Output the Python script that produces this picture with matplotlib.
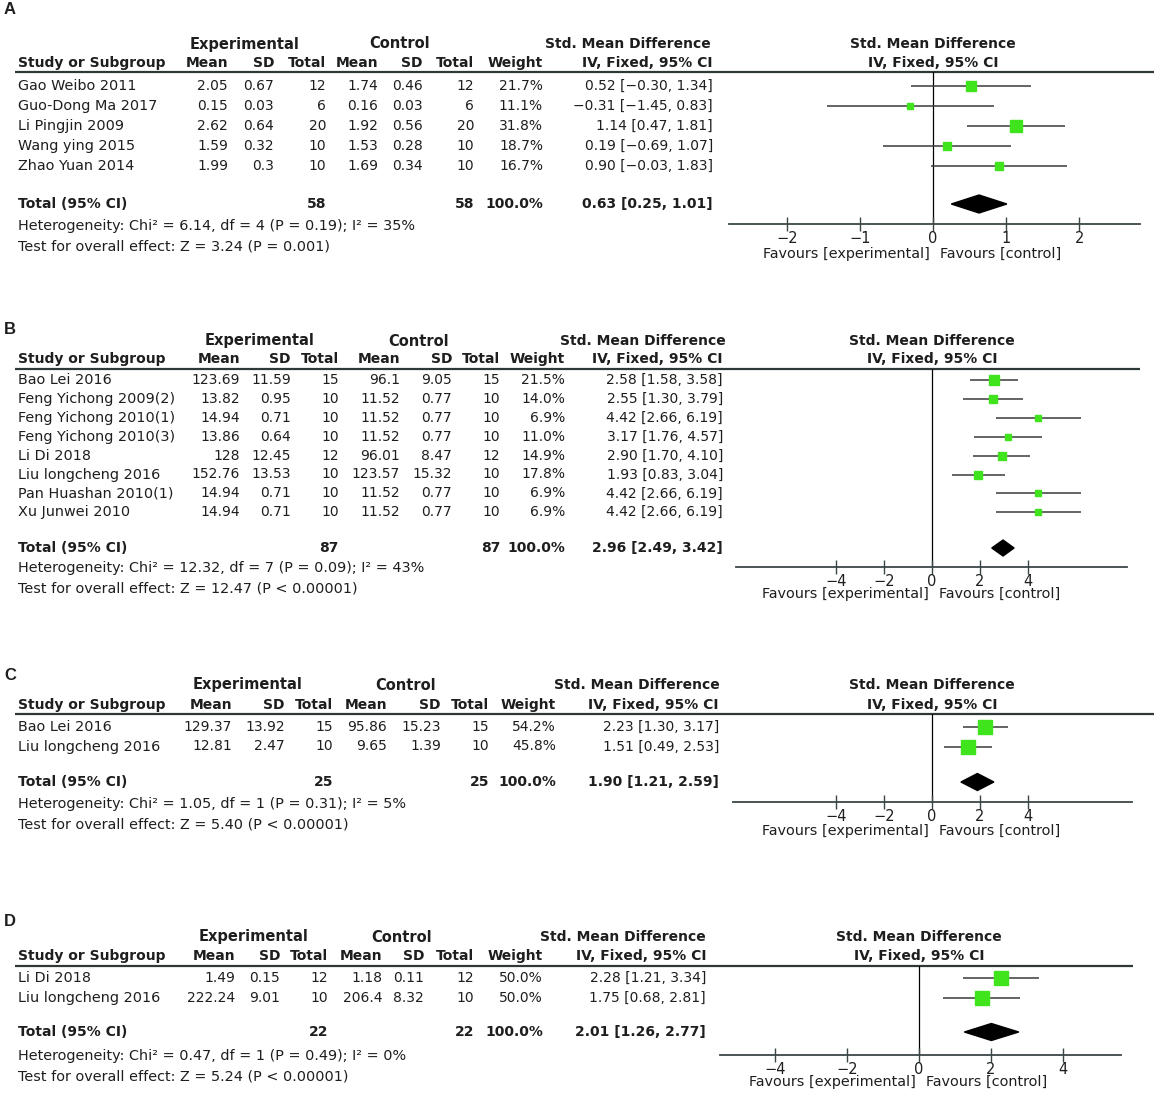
import matplotlib.pyplot as plt

W, H = 1156, 1097

# ---------------- panel A ----------------
a_study = ['Gao Weibo 2011', 'Guo-Dong Ma 2017', 'Li Pingjin 2009', 'Wang ying 2015', 'Zhao Yuan 2014']
a_exp_mean = [2.05, 0.15, 2.62, 1.59, 1.99]
a_exp_sd = [0.67, 0.03, 0.64, 0.32, 0.3]
a_exp_n = [12, 6, 20, 10, 10]
a_ctl_mean = [1.74, 0.16, 1.92, 1.53, 1.69]
a_ctl_sd = [0.46, 0.03, 0.56, 0.28, 0.34]
a_ctl_n = [12, 6, 20, 10, 10]
a_weight = [21.7, 11.1, 31.8, 18.7, 16.7]
a_smd = [0.52, -0.31, 1.14, 0.19, 0.90]
a_lo = [-0.30, -1.45, 0.47, -0.69, -0.03]
a_hi = [1.34, 0.83, 1.81, 1.07, 1.83]
a_totals = [58, 58]
a_pooled = [0.63, 0.25, 1.01]
a_het = 'Heterogeneity: Chi² = 6.14, df = 4 (P = 0.19); I² = 35%'
a_test = 'Test for overall effect: Z = 3.24 (P = 0.001)'
a_ticks = [-2, -1, 0, 1, 2]

# ---------------- panel B ----------------
b_study = ['Bao Lei 2016', 'Feng Yichong 2009(2)', 'Feng Yichong 2010(1)', 'Feng Yichong 2010(3)',
           'Li Di 2018', 'Liu longcheng 2016', 'Pan Huashan 2010(1)', 'Xu Junwei 2010']
b_exp_mean = [123.69, 13.82, 14.94, 13.86, 128, 152.76, 14.94, 14.94]
b_exp_sd = [11.59, 0.95, 0.71, 0.64, 12.45, 13.53, 0.71, 0.71]
b_exp_n = [15, 10, 10, 10, 12, 10, 10, 10]
b_ctl_mean = [96.1, 11.52, 11.52, 11.52, 96.01, 123.57, 11.52, 11.52]
b_ctl_sd = [9.05, 0.77, 0.77, 0.77, 8.47, 15.32, 0.77, 0.77]
b_ctl_n = [15, 10, 10, 10, 12, 10, 10, 10]
b_weight = [21.5, 14.0, 6.9, 11.0, 14.9, 17.8, 6.9, 6.9]
b_smd = [2.58, 2.55, 4.42, 3.17, 2.90, 1.93, 4.42, 4.42]
b_lo = [1.58, 1.30, 2.66, 1.76, 1.70, 0.83, 2.66, 2.66]
b_hi = [3.58, 3.79, 6.19, 4.57, 4.10, 3.04, 6.19, 6.19]
b_totals = [87, 87]
b_pooled = [2.96, 2.49, 3.42]
b_het = 'Heterogeneity: Chi² = 12.32, df = 7 (P = 0.09); I² = 43%'
b_test = 'Test for overall effect: Z = 12.47 (P < 0.00001)'
b_ticks = [-4, -2, 0, 2, 4]

# ---------------- panel C ----------------
c_study = ['Bao Lei 2016', 'Liu longcheng 2016']
c_exp_mean = [129.37, 12.81]
c_exp_sd = [13.92, 2.47]
c_exp_n = [15, 10]
c_ctl_mean = [95.86, 9.65]
c_ctl_sd = [15.23, 1.39]
c_ctl_n = [15, 10]
c_weight = [54.2, 45.8]
c_smd = [2.23, 1.51]
c_lo = [1.30, 0.49]
c_hi = [3.17, 2.53]
c_totals = [25, 25]
c_pooled = [1.90, 1.21, 2.59]
c_het = 'Heterogeneity: Chi² = 1.05, df = 1 (P = 0.31); I² = 5%'
c_test = 'Test for overall effect: Z = 5.40 (P < 0.00001)'
c_ticks = [-4, -2, 0, 2, 4]

# ---------------- panel D ----------------
d_study = ['Li Di 2018', 'Liu longcheng 2016']
d_exp_mean = [1.49, 222.24]
d_exp_sd = [0.15, 9.01]
d_exp_n = [12, 10]
d_ctl_mean = [1.18, 206.4]
d_ctl_sd = [0.11, 8.32]
d_ctl_n = [12, 10]
d_weight = [50.0, 50.0]
d_smd = [2.28, 1.75]
d_lo = [1.21, 0.68]
d_hi = [3.34, 2.81]
d_totals = [22, 22]
d_pooled = [2.01, 1.26, 2.77]
d_het = 'Heterogeneity: Chi² = 0.47, df = 1 (P = 0.49); I² = 0%'
d_test = 'Test for overall effect: Z = 5.24 (P < 0.00001)'
d_ticks = [-4, -2, 0, 2, 4]

# pixel layout of each panel (positions only)
lay_a = dict(letter=10, h1=44, h2=63, line=72, line_end=1154, row0=86, step=20, total=204, het=226, test=246,
             cols=[228, 274, 326, 378, 423, 474, 543, 713], exp_c=245, ctl_c=400, smd_c=628,
             zero=933, unit=73.1, ax_l=729, ax_r=1140, axis=224, fav=254, dh=9)
lay_b = dict(letter=330, h1=341, h2=359, line=369, line_end=1140, row0=380, step=18.9, total=548, het=568, test=588,
             cols=[240, 291, 339, 400, 452, 500, 565, 723], exp_c=260, ctl_c=419, smd_c=643,
             zero=932, unit=24.0, ax_l=736, ax_r=1127, axis=567, fav=594, dh=8)
lay_c = dict(letter=676, h1=685, h2=705, line=714, line_end=1154, row0=727, step=19.5, total=782, het=804, test=824,
             cols=[232, 285, 333, 387, 441, 489, 556, 719], exp_c=248, ctl_c=406, smd_c=637,
             zero=932, unit=23.9, ax_l=733, ax_r=1132, axis=802, fav=831, dh=8.5)
lay_d = dict(letter=922, h1=937, h2=956, line=966, line_end=1133, row0=978, step=20, total=1032, het=1056, test=1076,
             cols=[235, 280, 328, 382, 424, 474, 543, 706], exp_c=254, ctl_c=402, smd_c=623,
             zero=919, unit=36.0, ax_l=720, ax_r=1121, axis=1055, fav=1082, dh=8.5)

TXT = '#1e1e1e'
GREEN = '#3fe41c'
FS = 10      # headers / numbers
FS_TXT = 10.4  # running text

plt.rcParams['font.family'] = ['DejaVu Sans']

fig = plt.figure(figsize=(W / 100, H / 100), dpi=100)
bg = fig.add_axes([0, 0, 1, 1])
bg.set_xlim(0, W)
bg.set_ylim(H, 0)
bg.axis('off')


def num(v):
    return f'{v:g}'


def ci_text(est, lo, hi):
    return f'{est:.2f} [{lo:.2f}, {hi:.2f}]'.replace('-', '−')


def draw_panel(letter, lay, study, exp_mean, exp_sd, exp_n, ctl_mean, ctl_sd, ctl_n,
               weight, smd, lo, hi, totals, pooled, het, test, ticks):
    cols = lay['cols']
    bg.text(4, lay['letter'], letter, fontsize=12, fontweight='bold', color=TXT, va='center',
            family='Liberation Sans')

    # header rows
    bg.text(lay['exp_c'], lay['h1'], 'Experimental', ha='center', va='center', fontsize=FS + 0.5,
            fontweight='bold', color=TXT)
    bg.text(lay['ctl_c'], lay['h1'], 'Control', ha='center', va='center', fontsize=FS + 0.5,
            fontweight='bold', color=TXT)
    bg.text(lay['smd_c'], lay['h1'], 'Std. Mean Difference', ha='center', va='center', fontsize=FS,
            fontweight='bold', color=TXT)
    bg.text(lay['zero'], lay['h1'], 'Std. Mean Difference', ha='center', va='center', fontsize=FS,
            fontweight='bold', color=TXT)
    bg.text(18, lay['h2'], 'Study or Subgroup', va='center', fontsize=FS, fontweight='bold', color=TXT)
    heads = ['Mean', 'SD', 'Total', 'Mean', 'SD', 'Total', 'Weight', 'IV, Fixed, 95% CI']
    for x, h in zip(cols, heads):
        bg.text(x, lay['h2'], h, ha='right', va='center', fontsize=FS, fontweight='bold', color=TXT)
    bg.text(lay['zero'], lay['h2'], 'IV, Fixed, 95% CI', ha='center', va='center', fontsize=FS,
            fontweight='bold', color=TXT)
    bg.plot([15, lay['line_end']], [lay['line'], lay['line']], color='#2f3838', lw=1.6, solid_capstyle='butt')

    # study rows
    rows = [lay['row0'] + i * lay['step'] for i in range(len(study))]
    for i, y in enumerate(rows):
        bg.text(18, y, study[i], va='center', fontsize=FS_TXT, color=TXT)
        vals = [num(exp_mean[i]), num(exp_sd[i]), str(exp_n[i]), num(ctl_mean[i]), num(ctl_sd[i]),
                str(ctl_n[i]), f'{weight[i]:.1f}%', ci_text(smd[i], lo[i], hi[i])]
        for x, v in zip(cols, vals):
            bg.text(x, y, v, ha='right', va='center', fontsize=FS, color=TXT)

    # total row + notes
    ty = lay['total']
    bg.text(18, ty, 'Total (95% CI)', va='center', fontsize=FS, fontweight='bold', color=TXT)
    for x, v in zip([cols[2], cols[5], cols[6], cols[7]],
                    [str(totals[0]), str(totals[1]), '100.0%', ci_text(*pooled)]):
        bg.text(x, ty, v, ha='right', va='center', fontsize=FS, fontweight='bold', color=TXT)
    bg.text(18, lay['het'], het, va='center', fontsize=FS_TXT, color=TXT)
    bg.text(18, lay['test'], test, va='center', fontsize=FS_TXT, color=TXT)

    # forest plot
    ax = fig.add_axes([lay['ax_l'] / W, 1 - lay['axis'] / H,
                       (lay['ax_r'] - lay['ax_l']) / W, (lay['axis'] - lay['line']) / H])
    ax.patch.set_alpha(0)
    ax.set_xlim((lay['ax_l'] - lay['zero']) / lay['unit'], (lay['ax_r'] - lay['zero']) / lay['unit'])
    ax.set_ylim(lay['axis'], lay['line'])
    for s in ['top', 'left', 'right']:
        ax.spines[s].set_visible(False)
    ax.spines['bottom'].set_color('#3c4646')
    ax.spines['bottom'].set_linewidth(1.3)
    ax.set_yticks([])
    ax.set_xticks(ticks)
    ax.set_xticklabels([f'{t}'.replace('-', '−') for t in ticks])
    ax.tick_params(axis='x', direction='inout', length=10, width=1, color='#3c4646',
                   labelsize=FS + 0.5, labelcolor=TXT, pad=0)
    ax.axvline(0, color='black', lw=0.9, zorder=1)

    ax.hlines(rows, lo, hi, color='#3a3a3a', lw=1.1, zorder=2)
    for i, y in enumerate(rows):
        side = 1.45 * weight[i] ** 0.5
        ax.plot(smd[i], y, marker='s', ms=side, color=GREEN, mec=GREEN, zorder=3)

    est, plo, phi = pooled
    dh = lay['dh']
    ax.fill([plo, est, phi, est], [ty, ty - dh, ty, ty + dh], color='black', zorder=3)

    bg.text(lay['zero'] - 3, lay['fav'], 'Favours [experimental]', ha='right', va='center',
            fontsize=FS_TXT, color=TXT)
    bg.text(lay['zero'] + 7, lay['fav'], 'Favours [control]', ha='left', va='center',
            fontsize=FS_TXT, color=TXT)


draw_panel('A', lay_a, a_study, a_exp_mean, a_exp_sd, a_exp_n, a_ctl_mean, a_ctl_sd, a_ctl_n,
           a_weight, a_smd, a_lo, a_hi, a_totals, a_pooled, a_het, a_test, a_ticks)
draw_panel('B', lay_b, b_study, b_exp_mean, b_exp_sd, b_exp_n, b_ctl_mean, b_ctl_sd, b_ctl_n,
           b_weight, b_smd, b_lo, b_hi, b_totals, b_pooled, b_het, b_test, b_ticks)
draw_panel('C', lay_c, c_study, c_exp_mean, c_exp_sd, c_exp_n, c_ctl_mean, c_ctl_sd, c_ctl_n,
           c_weight, c_smd, c_lo, c_hi, c_totals, c_pooled, c_het, c_test, c_ticks)
draw_panel('D', lay_d, d_study, d_exp_mean, d_exp_sd, d_exp_n, d_ctl_mean, d_ctl_sd, d_ctl_n,
           d_weight, d_smd, d_lo, d_hi, d_totals, d_pooled, d_het, d_test, d_ticks)

fig.savefig('out.png', dpi=100, facecolor='white')
